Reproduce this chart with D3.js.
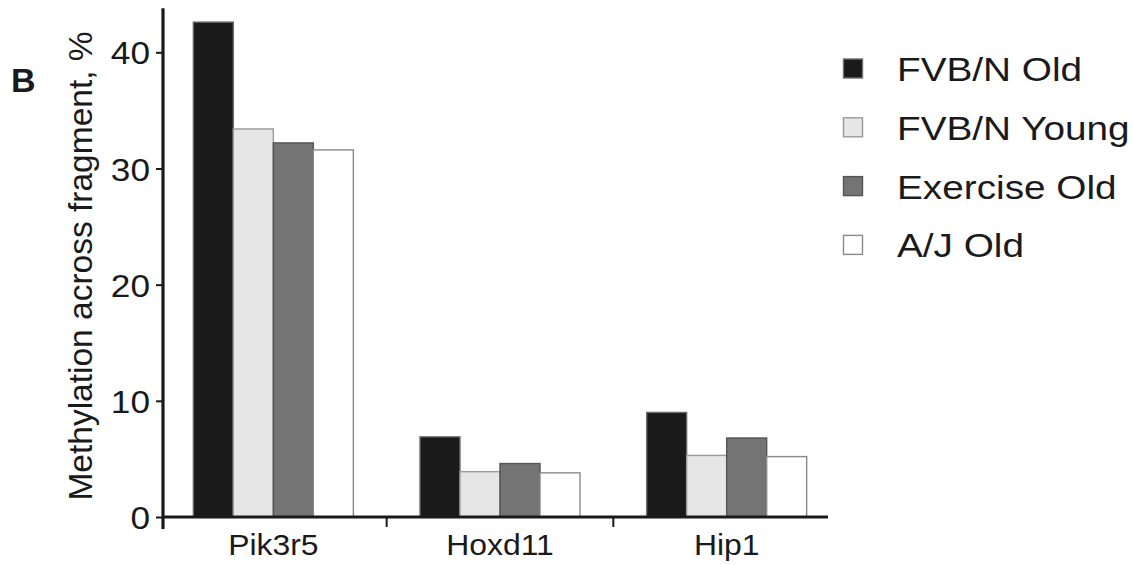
<!DOCTYPE html>
<html>
<head>
<meta charset="utf-8">
<script src="https://cdn.jsdelivr.net/npm/d3@7"></script>
<style>
html,body{margin:0;padding:0;background:#fff;}
svg{display:block;}
text{font-family:"Liberation Sans",Arial,Helvetica,sans-serif;fill:#1a1a1a;}
</style>
</head>
<body>
<svg id="chart" width="1133" height="565"></svg>
<script>
const categories = ["Pik3r5", "Hoxd11", "Hip1"];
const seriesNames = ["FVB/N Old", "FVB/N Young", "Exercise Old", "A/J Old"];
const fvbOld      = [42.6, 6.9, 9.0];
const fvbYoung    = [33.4, 3.9, 5.3];
const exerciseOld = [32.2, 4.6, 6.8];
const ajOld       = [31.6, 3.8, 5.2];
const yTicks = [0, 10, 20, 30, 40];
const yTitle = "Methylation across fragment, %";
const panelLabel = "B";

const seriesValues = [fvbOld, fvbYoung, exerciseOld, ajOld];
const fills   = ["#1a1a1a", "#e6e6e6", "#747474", "#ffffff"];
const strokes = ["#6e6e6e", "#9a9a9a", "#555555", "#8a8a8a"];
const sx = 1.1; // horizontal stretch of the original typography

const svg = d3.select("#chart");

const y = d3.scaleLinear().domain([0, 40]).range([517, 52.3]);
const x = d3.scaleBand().domain(categories).range([160, 840]);
const step = x.step();
const xi = d3.scaleBand().domain(seriesNames).range([step / 2 - 80, step / 2 + 80]);

const axisColor = "#1a1a1a";

// bars
categories.forEach((c, ci) => {
  const g = svg.append("g").attr("transform", `translate(${x(c)},0)`);
  seriesNames.forEach((s, si) => {
    const v = seriesValues[si][ci];
    g.append("rect")
      .attr("x", xi(s))
      .attr("y", y(v))
      .attr("width", xi.bandwidth())
      .attr("height", y(0) - y(v))
      .attr("fill", fills[si])
      .attr("stroke", strokes[si])
      .attr("stroke-width", 1.4);
  });
});

// y axis
const yAxis = d3.axisLeft(y).tickValues(yTicks).tickSize(7).tickPadding(6);
const ya = svg.append("g").attr("transform", "translate(163,0)").call(yAxis);
ya.select(".domain").remove();
ya.selectAll(".tick line").attr("stroke", axisColor).attr("stroke-width", 2);
ya.selectAll(".tick text")
  .attr("font-size", 32)
  .attr("fill", axisColor)
  .attr("dy", "0.36em")
  .attr("transform", function(){ const xx = +d3.select(this).attr("x"); return `translate(${xx*(1-sx)},0) scale(${sx},1)`; });

svg.append("line")
  .attr("x1", 163).attr("x2", 163)
  .attr("y1", y(43.8)).attr("y2", y(0) + 12)
  .attr("stroke", axisColor).attr("stroke-width", 3.2);

// x axis line
svg.append("line")
  .attr("x1", 163).attr("x2", 828)
  .attr("y1", y(0)).attr("y2", y(0))
  .attr("stroke", axisColor).attr("stroke-width", 3.2);

// group separator ticks
categories.slice(1).forEach(c => {
  svg.append("line")
    .attr("x1", x(c)).attr("x2", x(c))
    .attr("y1", y(0)).attr("y2", y(0) + 10)
    .attr("stroke", axisColor).attr("stroke-width", 2);
});

// category labels
categories.forEach(c => {
  const cx = x(c) + step / 2;
  svg.append("text")
    .attr("text-anchor", "middle")
    .attr("font-size", 29)
    .attr("transform", `translate(${cx},555) scale(${sx},1)`)
    .text(c);
});

// y title
svg.append("text")
  .attr("text-anchor", "middle")
  .attr("font-size", 33.5)
  .attr("transform", "translate(92,266) rotate(-90)")
  .text(yTitle);

// panel label
svg.append("text")
  .attr("x", 11).attr("y", 92)
  .attr("font-size", 34)
  .attr("font-weight", "bold")
  .text(panelLabel);

// legend
const lg = svg.append("g");
seriesNames.forEach((s, i) => {
  const cy = 68.5 + i * 58.8;
  lg.append("rect")
    .attr("x", 843.5).attr("y", cy - 9.5)
    .attr("width", 19).attr("height", 19)
    .attr("fill", fills[i])
    .attr("stroke", strokes[i])
    .attr("stroke-width", 1.4);
  lg.append("text")
    .attr("font-size", 34)
    .attr("transform", `translate(897,${cy + 12.5}) scale(1.14,1)`)
    .text(s);
});
</script>
</body>
</html>
